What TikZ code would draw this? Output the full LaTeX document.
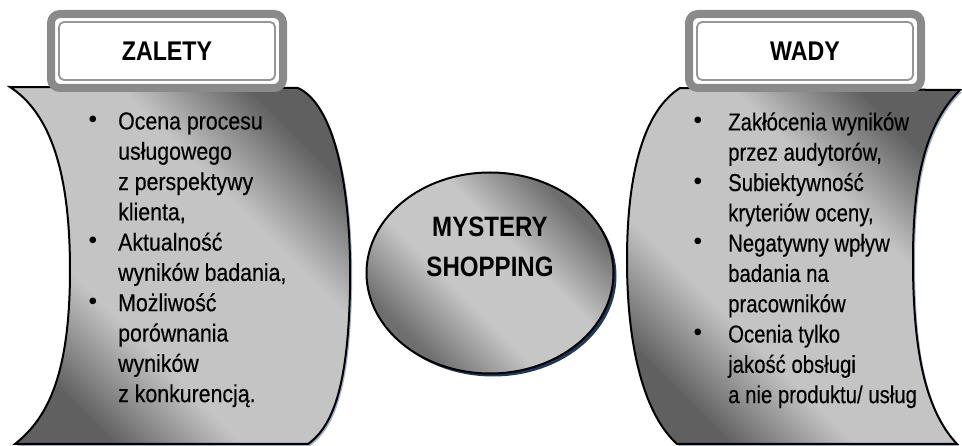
\documentclass[tikz,border=0pt]{standalone}
\usepackage{fontspec}
\setmainfont{Liberation Sans}[FakeStretch=0.83, FakeBold=0.3]
\newfontfamily\widefont{Liberation Sans}[FakeStretch=0.87, FakeBold=0.3]
\newfontfamily\headfont{Liberation Sans}[FakeStretch=0.86]
\newfontfamily\bulletfont{Liberation Sans}
\usetikzlibrary{shapes.geometric, shadows, positioning}
\definecolor{scrolldark}{RGB}{96,96,96}
\definecolor{scrolllight}{RGB}{196,196,196}
\definecolor{hubdark}{RGB}{110,110,110}
\definecolor{hublight}{RGB}{198,198,198}
\definecolor{boxgray}{RGB}{138,138,138}
\definecolor{boxline}{RGB}{150,150,150}
\definecolor{shadownavy}{RGB}{31,56,90}
\definecolor{shadowblue}{RGB}{160,178,204}
\pgfdeclareverticalshading{scrollshade}{100bp}{color(0bp)=(scrolldark); color(25bp)=(scrolldark);
    color(38bp)=(scrolllight); color(62bp)=(scrolllight); color(75bp)=(scrolldark); color(100bp)=(scrolldark)}
\pgfdeclareverticalshading{hubshade}{100bp}{color(0bp)=(hubdark); color(27bp)=(hubdark);
    color(42bp)=(hublight); color(58bp)=(hublight); color(73bp)=(hubdark); color(100bp)=(hubdark)}
\newcommand{\bul}[1][21pt]{\makebox[0pt][r]{\raisebox{2pt}{\bulletfont\textbullet}\hspace{#1}}}
\newcommand{\colsize}{\fontsize{24.5}{30.3}\selectfont}

\begin{document}
\begin{tikzpicture}[x=1pt, y=-1pt,
    scroll/.style={draw=black, line width=2pt, shade, shading=scrollshade, shading angle=-45,
                   drop shadow={shadow xshift=2pt, shadow yshift=-2pt, fill=shadowblue, opacity=1}},
    labelbox/.style={rectangle, rounded corners=9pt, draw=boxgray, line width=8pt,
                     fill=white, outer sep=0pt, minimum width=232pt, minimum height=74pt,
                     text depth=0pt, font=\headfont\bfseries\fontsize{27}{32}\selectfont},
    hub/.style={ellipse, draw=black, line width=2pt, minimum width=247pt, minimum height=201pt,
                shade, shading=hubshade, shading angle=-45,
                drop shadow={shadow xshift=3pt, shadow yshift=-3pt, fill=shadownavy, opacity=1}},
    hubtext/.style={align=center, font=\headfont\bfseries\fontsize{28}{40}\selectfont},
    column/.style={align=left, inner sep=0pt, anchor=north west}
]
\useasboundingbox (0,0) rectangle (962,446);

% Scrolls
\draw[scroll] (10,87) -- (298,88)
    .. controls (335,105) and (352,190) .. (350,290)
    .. controls (348,380) and (335,425) .. (308,444)
    -- (15,444)
    .. controls (45,420) and (70,380) .. (70,270)
    .. controls (70,160) and (45,110) .. (10,87) -- cycle;
\draw[scroll] (680,88) -- (960,90)
    .. controls (925,125) and (913,180) .. (913,260)
    .. controls (913,350) and (925,410) .. (957,444)
    -- (677,444)
    .. controls (645,415) and (627,350) .. (627,260)
    .. controls (627,170) and (645,110) .. (680,88) -- cycle;

% Labels
\node[labelbox] (zalety) at (167,51) {ZALETY};
\node[labelbox] (wady) at (805,51) {WADY};
\foreach \n in {zalety,wady}
    \draw[boxline, line width=1.8pt, rounded corners=5pt]
        ([shift={(8pt,-8pt)}]\n.north west) rectangle ([shift={(-8pt,8pt)}]\n.south east);

% Centre
\node[hub] (hub) at (490,273) {};
\node[hubtext] (hubtext) at ([yshift=26pt]hub.center) {MYSTERY\\SHOPPING};

% Lists
\node[column, font=\widefont\colsize] (pros) at (118,108) {\bul\strut Ocena procesu\\
    usługowego\\
    z perspektywy\\
    klienta,\\
    \bul Aktualność\\
    wyników badania,\\
    \bul Możliwość\\
    porównania\\
    wyników\\
    z konkurencją.};
\node[column, font=\colsize] (cons) at (728,109) {\bul[26pt]\strut Zakłócenia wyników\\
    przez audytorów,\\
    \bul[26pt]Subiektywność\\
    kryteriów oceny,\\
    \bul[26pt]Negatywny wpływ\\
    badania na\\
    pracowników\\
    \bul[26pt]Ocenia tylko\\
    jakość obsługi\\
    a nie produktu/ usług};
\end{tikzpicture}
\end{document}
